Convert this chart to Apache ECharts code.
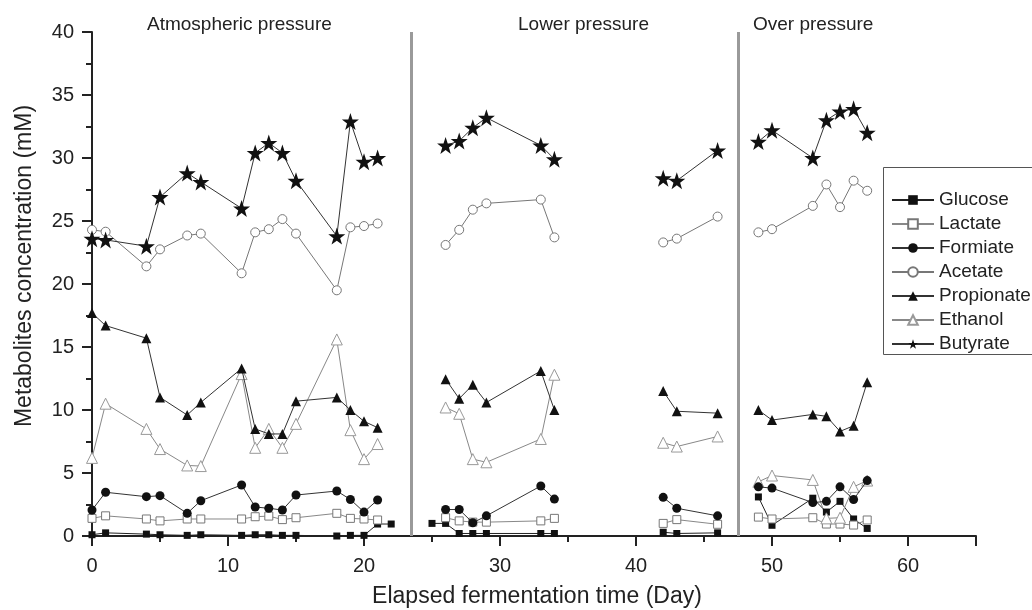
<!DOCTYPE html>
<html><head><meta charset="utf-8">
<script src="https://cdn.jsdelivr.net/npm/echarts@6/dist/echarts.min.js"></script>
<style>html,body{margin:0;padding:0;background:#fff}#c{width:1032px;height:610px}</style>
</head><body><div id="c"></div>
<script>
// Elapsed fermentation time (days)
const days = [0,1,4,5,7,8,11,12,13,14,15,18,19,20,21,22, 25,26,27,28,29,33,34, 42,43,46, 49,50,53,54,55,56,57];
const glucose    = [0.1,0.25,0.15,0.1,0.05,0.1,0.05,0.1,0.1,0.05,0.05,0.0,0.05,0.05,0.95,0.95, 1.0,1.0,0.2,0.2,0.2,0.2,0.2, 0.3,0.2,0.25, 3.1,0.85,3.0,1.9,2.75,1.35,0.6];
const lactate    = [1.4,1.6,1.35,1.2,1.35,1.35,1.35,1.53,1.58,1.3,1.45,1.8,1.4,1.35,1.27,null, null,1.45,1.2,1.1,1.1,1.2,1.4, 1.0,1.3,0.93, 1.5,1.35,1.45,0.95,0.95,0.87,1.27];
const formiate   = [2.06,3.47,3.12,3.2,1.8,2.8,4.05,2.3,2.2,2.06,3.25,3.57,2.9,1.9,2.86,null, null,2.1,2.1,1.05,1.6,3.97,2.93, 3.07,2.2,1.6, 3.9,3.8,2.65,2.75,3.9,2.9,4.4];
const acetate    = [24.3,24.15,21.4,22.75,23.85,24.0,20.85,24.1,24.35,25.15,24.0,19.5,24.5,24.6,24.8,null, null,23.1,24.3,25.9,26.4,26.7,23.7, 23.3,23.6,25.35, 24.1,24.35,26.2,27.9,26.1,28.2,27.4];
const propionate = [17.7,16.7,15.7,11.0,9.6,10.6,13.3,8.5,8.1,8.1,10.7,11.0,10.0,9.1,8.6,null, null,12.45,10.9,12.0,10.6,13.1,10.0, 11.5,9.9,9.75, 10.0,9.2,9.65,9.5,8.3,8.75,12.2];
const ethanol    = [6.2,10.5,8.5,6.9,5.6,5.55,12.85,7.0,8.5,7.0,8.9,15.6,8.4,6.1,7.3,null, null,10.2,9.7,6.1,5.85,7.7,12.8, 7.4,7.1,7.9, 4.3,4.8,4.45,1.4,1.45,3.9,4.4];
const butyrate   = [23.6,23.5,23.0,26.9,28.8,28.1,26.0,30.4,31.2,30.4,28.2,23.8,32.9,29.7,30.0,null, null,31.0,31.35,32.4,33.2,31.0,29.9, 28.4,28.2,30.6, 31.3,32.2,30.0,33.0,33.7,33.9,32.0];

const seriesNames = ['Glucose','Lactate','Formiate','Acetate','Propionate','Ethanol','Butyrate'];
const sectionTitles = ['Atmospheric pressure','Lower pressure','Over pressure'];
const separators = [23.5, 47.5];
const breaks = [23.5, 38, 47.5];

const FONT = 'Liberation Sans, Arial, sans-serif';
const STAR = 'path://M50,0 L61.8,35.4 L97.6,35.4 L68.8,57.2 L79.4,92 L50,70.5 L20.6,92 L31.2,57.2 L2.4,35.4 L38.2,35.4 Z';

function build(vals){
  const out = [];
  for (let i = 0; i < days.length; i++) {
    if (i > 0 && breaks.some(b => days[i-1] < b && days[i] > b)) out.push([(days[i-1]+days[i])/2, '-']);
    out.push([days[i], vals[i] === null ? '-' : vals[i]]);
  }
  return out;
}
function ser(name, vals, symbol, size, fill, stroke, lineColor, z){
  return {
    name, type:'line', data: build(vals), symbol, symbolSize:size, showAllSymbol:true,
    connectNulls:false, z,
    itemStyle:{color:fill, borderColor:stroke, borderWidth: fill === '#fff' ? 1 : 0, opacity:1},
    lineStyle:{color:lineColor, width:1},
    emphasis:{disabled:true}
  };
}

const series = [
  ser(seriesNames[0], glucose, 'rect', 7, '#111', '#111', '#222', 3),
  ser(seriesNames[1], lactate, 'rect', 8, '#fff', '#777', '#888', 3),
  ser(seriesNames[2], formiate, 'circle', 9, '#111', '#111', '#333', 4),
  ser(seriesNames[3], acetate, 'circle', 9, '#fff', '#777', '#777', 3),
  ser(seriesNames[4], propionate, 'triangle', 10, '#111', '#111', '#333', 4),
  ser(seriesNames[5], ethanol, 'triangle', 11, '#fff', '#999', '#888', 3),
  ser(seriesNames[6], butyrate, STAR, 17, '#111', '#111', '#333', 5)
];
series[0].markLine = {
  silent:true, symbol:'none', animation:false,
  label:{show:false},
  lineStyle:{color:'#9a9a9a', width:3, type:'solid'},
  data: separators.map(v => ({xAxis:v}))
};

const chart = echarts.init(document.getElementById('c'));
chart.setOption({
  animation:false,
  backgroundColor:'#fff',
  textStyle:{fontFamily:FONT},
  grid:{left:92, right:56, top:32, bottom:74, containLabel:false},
  legend:{
    orient:'vertical', left:883, top:167,
    data: seriesNames,
    itemWidth:42, itemHeight:12, itemGap:4,
    padding:[23, 0, 0, 8],
    borderWidth:0,
    textStyle:{fontSize:19, color:'#222', fontFamily:FONT, lineHeight:20},
    selectedMode:false
  },
  xAxis:{
    type:'value', min:0, max:65, interval:10,
    axisLine:{show:true, lineStyle:{color:'#222', width:2}},
    axisTick:{show:true, inside:false, length:10, lineStyle:{color:'#222', width:2}},
    minorTick:{show:true, splitNumber:2, length:6, lineStyle:{color:'#222', width:2}},
    axisLabel:{fontSize:20, color:'#222', margin:20, fontFamily:FONT, showMaxLabel:false,
      formatter: v => (v % 10 === 0 ? String(v) : '')},
    splitLine:{show:false}
  },
  yAxis:{
    type:'value', min:0, max:40, interval:5,
    axisLine:{show:true, lineStyle:{color:'#222', width:2}},
    axisTick:{show:true, inside:false, length:10, lineStyle:{color:'#222', width:2}},
    minorTick:{show:true, splitNumber:2, length:6, lineStyle:{color:'#222', width:2}},
    axisLabel:{fontSize:20, color:'#222', margin:18, fontFamily:FONT},
    splitLine:{show:false}
  },
  graphic:[
    {type:'rect', left:883, top:167, z:-1, shape:{width:200, height:187},
      style:{fill:'#fff', stroke:'#555', lineWidth:1}},
    {type:'text', left:147, top:15, style:{text:sectionTitles[0], fontSize:19, fill:'#222', fontFamily:FONT}},
    {type:'text', left:518, top:15, style:{text:sectionTitles[1], fontSize:19, fill:'#222', fontFamily:FONT}},
    {type:'text', left:753, top:15, style:{text:sectionTitles[2], fontSize:19, fill:'#222', fontFamily:FONT}},
    {type:'text', x:25, y:266, rotation:Math.PI/2,
      style:{text:'Metabolites concentration (mM)', fontSize:23, fill:'#222', fontFamily:FONT, align:'center', verticalAlign:'middle'}},
    {type:'text', x:537, y:597,
      style:{text:'Elapsed fermentation time (Day)', fontSize:23, fill:'#222', fontFamily:FONT, align:'center', verticalAlign:'middle'}}
  ],
  series
});
</script></body></html>
